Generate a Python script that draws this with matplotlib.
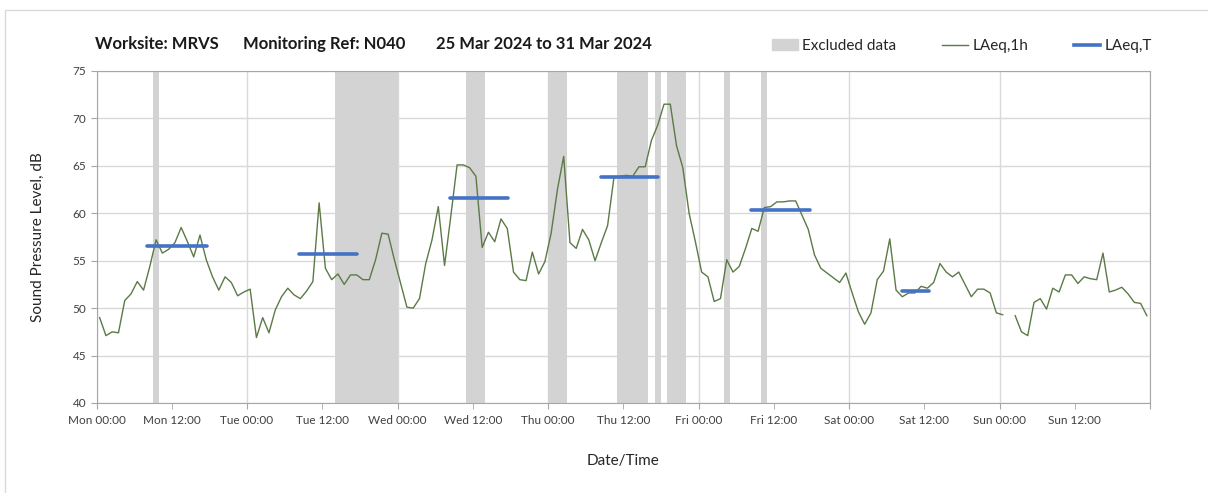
import matplotlib.pyplot as plt
import matplotlib.patches as mpatches
from matplotlib.lines import Line2D
import numpy as np

# hourly LAeq,1h values, Mon 00:00 .. Sun 23:00 (nan = no data)
laeq_1h = [
    49.0, 47.1, 47.5, 47.4, 50.8, 51.5, 52.8, 51.9, 54.4, 57.2, 55.8, 56.2,
    56.9, 58.5, 57.0, 55.4, 57.7, 55.1, 53.3, 51.9, 53.3, 52.7, 51.3, 51.7,
    52.0, 46.9, 49.0, 47.4, 49.8, 51.2, 52.1, 51.4, 51.0, 51.8, 52.8, 61.1,
    54.2, 53.0, 53.6, 52.5, 53.5, 53.5, 53.0, 53.0, 55.1, 57.9, 57.8, 55.1,
    52.6, 50.1, 50.0, 51.0, 54.7, 57.2, 60.7, 54.5, 59.7, 65.1, 65.1, 64.8,
    63.9, 56.4, 58.0, 57.0, 59.4, 58.4, 53.8, 53.0, 52.9, 55.9, 53.6, 54.9,
    57.9, 62.5, 66.0, 56.9, 56.3, 58.3, 57.2, 55.0, 56.9, 58.7, 63.7, 63.9,
    64.0, 63.9, 64.9, 64.9, 67.7, 69.3, 71.5, 71.5, 67.1, 64.8, 60.0, 57.0,
    53.8, 53.3, 50.7, 51.0, 55.1, 53.8, 54.4, 56.3, 58.4, 58.1, 60.6, 60.7,
    61.2, 61.2, 61.3, 61.3, 59.8, 58.3, 55.6, 54.2, 53.7, 53.2, 52.7, 53.7,
    51.6, 49.6, 48.3, 49.5, 53.0, 53.9, 57.3, 51.9, 51.2, 51.6, 51.6, 52.3,
    52.1, 52.7, 54.7, 53.8, 53.3, 53.8, 52.5, 51.2, 52.0, 52.0, 51.6, 49.5,
    49.3, np.nan, 49.2, 47.5, 47.1, 50.6, 51.0, 49.9, 52.1, 51.7, 53.5, 53.5,
    52.6, 53.3, 53.1, 53.0, 55.8, 51.7, 51.9, 52.2, 51.5, 50.6, 50.5, 49.2,
]

# LAeq,T periods (hours from Mon 00:00) and levels
laeq_t_start = [8.1, 32.3, 56.3, 80.4, 104.4, 128.4]
laeq_t_end = [17.6, 41.5, 65.6, 89.6, 113.7, 132.8]
laeq_t_level = [56.6, 55.7, 61.6, 63.8, 60.3, 51.8]

# excluded data periods (hours from Mon 00:00)
excl_start = [9, 38, 59, 72, 83, 89, 91, 100, 106]
excl_end = [10, 48, 62, 75, 88, 90, 94, 101, 107]

days = ["Mon", "Tue", "Wed", "Thu", "Fri", "Sat", "Sun"]
title_parts = ["Worksite: MRVS", "Monitoring Ref: N040", "25 Mar 2024 to 31 Mar 2024"]

plt.rcParams["font.family"] = ["Lato", "DejaVu Sans"]

fig = plt.figure(figsize=(12.08, 4.93), dpi=100)
ax = fig.add_axes([0.0799, 0.1826, 0.8721, 0.6734])

# light frame round the whole chart
fig.patches.append(mpatches.Rectangle((5 / 1208, -0.02), 1.05, 1 - 10 / 493 + 0.02,
                                      transform=fig.transFigure, fill=False,
                                      edgecolor="#d9d9d9", lw=1))

for s, e in zip(excl_start, excl_end):
    ax.axvspan(s, e, color="#d3d3d3", lw=0, zorder=1)

hours = np.arange(len(laeq_1h)) + 0.5
ax.plot(hours, laeq_1h, color="#5b7a45", lw=1.0, zorder=3)

for s, e, v in zip(laeq_t_start, laeq_t_end, laeq_t_level):
    ax.plot([s, e], [v, v], color="#4472c4", lw=2.6, solid_capstyle="round", zorder=4)

ax.set_xlim(0, 168)
ax.set_ylim(40, 75)
ax.set_yticks(np.arange(40, 76, 5))

major = np.arange(0, 169, 24)
ax.set_xticks(major, [d + " 00:00" for d in days] + [""])
minor = np.arange(12, 168, 24)
ax.set_xticks(minor, [d + " 12:00" for d in days], minor=True)

ax.grid(True, axis="both", which="major", color="#d9d9d9", lw=1, zorder=0)
ax.set_axisbelow(True)
for sp in ax.spines.values():
    sp.set_color("#a6a6a6")
ax.tick_params(axis="both", which="both", colors="#a6a6a6", labelcolor="#404040",
               labelsize=8.5, length=4)
ax.tick_params(axis="x", which="both", pad=5)

ax.set_ylabel("Sound Pressure Level, dB", fontsize=11, color="#262626", labelpad=20)
ax.set_xlabel("Date/Time", fontsize=11, color="#262626", labelpad=20)

for xp, txt in zip([95, 243, 436], title_parts):
    fig.text(xp / 1208, 1 - 44 / 493, txt, fontsize=12, fontweight="bold",
             va="center", ha="left", color="#1a1a1a")

handles = [
    mpatches.Patch(color="#d3d3d3", label="Excluded data"),
    Line2D([], [], color="#5b7a45", lw=1.0, label="LAeq,1h"),
    Line2D([], [], color="#4472c4", lw=2.6, label="LAeq,T"),
]
fig.legend(handles=handles, loc="center right", bbox_to_anchor=(1166 / 1208, 1 - 46 / 493),
           ncol=3, frameon=False, fontsize=11, handlelength=1.7, handletextpad=0.3,
           columnspacing=3.0, labelcolor="#262626")

fig.savefig("out.png", dpi=100)
